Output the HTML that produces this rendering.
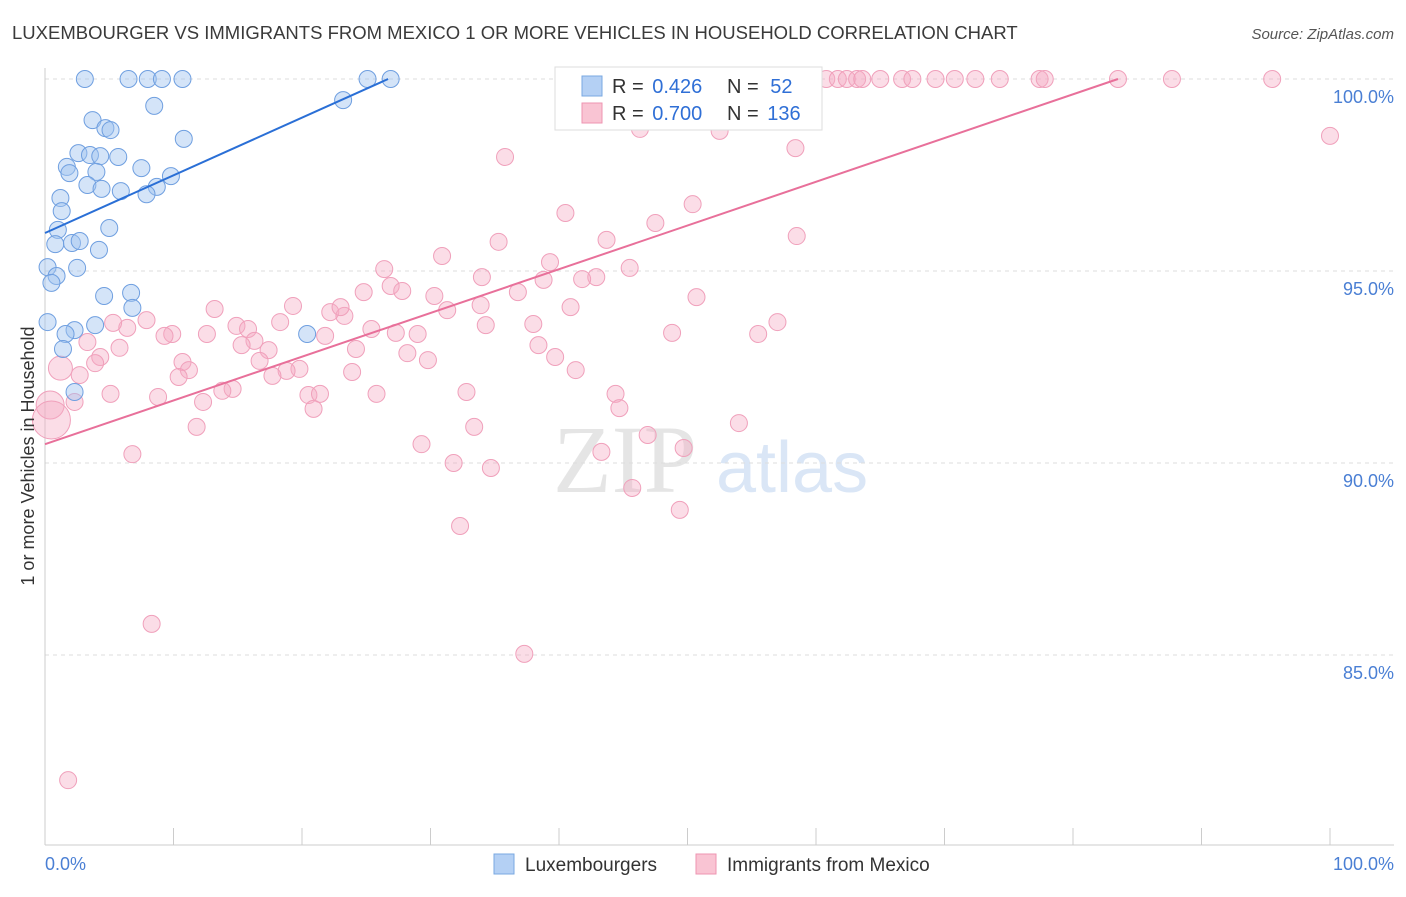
<!DOCTYPE html>
<html><head><meta charset="utf-8"><style>
body{margin:0;background:#fff;font-family:"Liberation Sans",sans-serif;}
</style></head><body>
<svg id="chart" width="1406" height="892" viewBox="0 0 1406 892" xmlns="http://www.w3.org/2000/svg">
<text x="12" y="39" font-size="18.5" fill="#3a3a3a">LUXEMBOURGER VS IMMIGRANTS FROM MEXICO 1 OR MORE VEHICLES IN HOUSEHOLD CORRELATION CHART</text>
<text x="1394" y="39" font-size="15" fill="#555" font-style="italic" text-anchor="end">Source: ZipAtlas.com</text>
<g opacity="0.55">
<text x="553" y="492" font-size="96" font-family="Liberation Serif,serif" fill="#d0d0d0">ZIP</text>
<text x="716" y="492" font-size="72" fill="#bcd3f0">atlas</text>
</g>
<g id="grid"></g><g id="axes"></g><g id="pts"></g><g id="lines"></g>
<g>
<rect x="555" y="67" width="267" height="63" fill="#fff" stroke="#ddd"/>
<rect x="582" y="76" width="20" height="20" fill="#b4d0f4" stroke="#7aa8e2"/>
<text x="612" y="93" font-size="20" fill="#333">R = <tspan dx="3" fill="#2f6fd6">0.426</tspan></text>
<text x="727" y="93" font-size="20" fill="#333">N = <tspan dx="6" fill="#2f6fd6">52</tspan></text>
<rect x="582" y="103" width="20" height="20" fill="#f9c4d3" stroke="#ee94b2"/>
<text x="612" y="120" font-size="20" fill="#333">R = <tspan dx="3" fill="#2f6fd6">0.700</tspan></text>
<text x="727" y="120" font-size="20" fill="#333">N = <tspan dx="3" fill="#2f6fd6">136</tspan></text>
</g>
<g>
<rect x="494" y="854" width="20" height="20" fill="#b4d0f4" stroke="#7aa8e2"/>
<text x="525" y="871" font-size="19" fill="#333">Luxembourgers</text>
<rect x="696" y="854" width="20" height="20" fill="#f9c4d3" stroke="#ee94b2"/>
<text x="727" y="871" font-size="19" fill="#333">Immigrants from Mexico</text>
</g>
<text transform="translate(34,456) rotate(-90)" font-size="18" fill="#333" text-anchor="middle">1 or more Vehicles in Household</text>
<text x="45" y="870" font-size="18" fill="#4a7fd4">0.0%</text>
<text x="1394" y="870" font-size="18" fill="#4a7fd4" text-anchor="end">100.0%</text>
</svg>
<script>
const yTicks=[100,95,90,85];
const yTickLabels=["100.0%","95.0%","90.0%","85.0%"];
const xTicks=[0,10,20,30,40,50,60,70,80,90,100];
const luxX=[3.1,6.5,8.0,9.1,10.7,25.1,26.9,23.2,8.5,3.7,4.7,5.1,10.8,2.6,3.5,4.3,5.7,1.7,7.5,1.9,4.0,9.8,3.3,4.4,5.9,8.7,7.9,1.2,1.3,5.0,1.0,0.8,2.1,2.7,4.2,2.5,0.2,0.9,0.5,6.7,4.6,6.8,3.9,0.2,2.3,1.6,20.4,1.4,2.3];
const luxY=[100,100,100,100,100,100,100,99.45,99.3,98.93,98.72,98.67,98.44,98.07,98.02,97.99,97.97,97.71,97.68,97.55,97.58,97.47,97.24,97.14,97.08,97.19,97.0,96.9,96.56,96.12,96.07,95.7,95.73,95.78,95.55,95.08,95.1,94.87,94.69,94.43,94.35,94.04,93.59,93.67,93.46,93.36,93.36,92.97,91.85];
const mexX=[47.9,51.0,53.2,54.5,55.6,57.2,58.8,59.7,60.8,61.7,62.4,63.2,63.6,65.0,66.7,67.5,69.3,70.8,72.4,74.3,77.4,77.8,83.5,87.7,95.5,51.4,100,46.3,52.5,58.4,35.8,40.5,47.5,50.4,58.5,35.3,43.7,39.3,30.9,26.4,45.5,34.0,42.9,41.8,38.8,26.9,27.8,36.8,24.8,30.3,50.7,40.9,13.2,31.3,19.3,33.9,22.2,23.3,23.0,57.0,38.0,34.3,14.9,6.4,5.3,7.9,3.3,9.9,9.3,12.6,15.8,18.3,48.8,55.5,21.8,25.4,27.3,29.0,16.3,15.3,24.2,38.4,17.4,5.8,4.3,28.2,39.7,10.7,16.7,29.8,3.9,1.2,11.2,10.4,2.7,19.8,23.9,18.8,41.3,17.7,5.1,8.8,14.6,13.8,20.5,21.4,25.8,32.8,44.4,12.3,2.3,0.4,44.7,20.9,0.5,11.8,33.4,54.0,46.9,29.3,49.7,43.3,6.8,31.8,34.7,45.7,32.3,49.4,8.3,37.3,1.8];
const mexY=[100,100,100,100,100,100,100,100,100,100,100,100,100,100,100,100,100,100,100,100,100,100,100,100,100,99.32,98.52,98.70,98.65,98.20,97.97,96.51,96.25,96.74,95.91,95.76,95.81,95.23,95.39,95.05,95.08,94.84,94.84,94.79,94.77,94.61,94.48,94.45,94.45,94.35,94.32,94.06,94.01,93.98,94.09,94.11,93.93,93.83,94.06,93.67,93.62,93.59,93.57,93.52,93.65,93.72,93.15,93.36,93.31,93.36,93.49,93.67,93.39,93.36,93.31,93.49,93.39,93.36,93.18,93.07,92.97,93.07,92.94,93.0,92.76,92.86,92.76,92.63,92.66,92.68,92.6,92.47,92.42,92.24,92.29,92.45,92.37,92.40,92.42,92.27,91.8,91.72,91.93,91.88,91.77,91.8,91.8,91.85,91.8,91.59,91.59,91.51,91.43,91.41,91.12,90.94,90.94,91.04,90.73,90.49,90.39,90.29,90.23,90.0,89.87,89.35,88.36,88.78,85.81,85.03,81.74];
const mexBig={91:12,111:14,114:19,135:11};
const luxTrend=[[0,95.99],[26.7,100]];
const mexTrend=[[0,90.49],[83.5,100]];
const X0=45,X1=1330,Y100=79,PX5=192;
const sx=v=>X0+(X1-X0)*v/100;
const sy=v=>Y100+(100-v)*PX5/5;
const NS="http://www.w3.org/2000/svg";
function mk(tag,attrs,parent){const e=document.createElementNS(NS,tag);for(const k in attrs)e.setAttribute(k,attrs[k]);parent.appendChild(e);return e;}
const grid=document.getElementById('grid'),axes=document.getElementById('axes'),pts=document.getElementById('pts'),lines=document.getElementById('lines');
yTicks.forEach((t,i)=>{
 const l=mk('line',{x1:X0,x2:1394,y1:sy(t),y2:sy(t),stroke:'#ddd','stroke-dasharray':'4,4'},grid);
 
 
 const tx=mk('text',{x:1394,y:sy(t)+24,'font-size':18,fill:'#4a7fd4','text-anchor':'end'},axes);
 tx.textContent=yTickLabels[i];
 
 
});
const ya=mk('line',{x1:X0,x2:X0,y1:68,y2:845,stroke:'#ccc'},axes);


const xa=mk('line',{x1:X0,x2:1394,y1:845,y2:845,stroke:'#ccc'},axes);


xTicks.forEach(t=>{
 const l=mk('line',{x1:sx(t),x2:sx(t),y1:828,y2:845,stroke:'#ccc'},axes);
 
 
});
mexX.forEach((x,i)=>{
 const c=mk('circle',{cx:sx(x),cy:sy(mexY[i]),r:mexBig[i]||8.5,fill:'rgba(246,170,195,0.4)',stroke:'#f0a0bb','stroke-width':1},pts);
 
 
});
luxX.forEach((x,i)=>{
 const c=mk('circle',{cx:sx(x),cy:sy(luxY[i]),r:8.5,fill:'rgba(160,195,240,0.45)',stroke:'#6f9fe0','stroke-width':1},pts);
 
 
});
const l1=mk('line',{x1:sx(luxTrend[0][0]),y1:sy(luxTrend[0][1]),x2:sx(luxTrend[1][0]),y2:sy(luxTrend[1][1]),stroke:'#2a6fd6','stroke-width':2},lines);


const l2=mk('line',{x1:sx(mexTrend[0][0]),y1:sy(mexTrend[0][1]),x2:sx(mexTrend[1][0]),y2:sy(mexTrend[1][1]),stroke:'#e8709a','stroke-width':2},lines);


</script>
</body></html>
